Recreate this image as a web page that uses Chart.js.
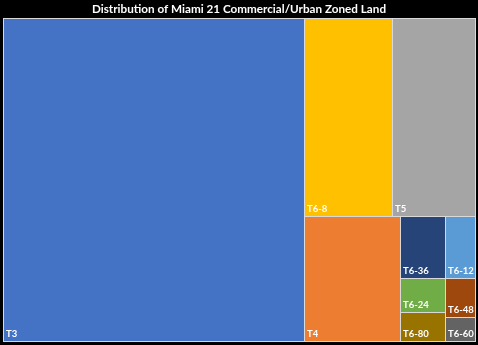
<!DOCTYPE html>
<html>
<head>
<meta charset="utf-8">
<script src="https://cdn.jsdelivr.net/npm/chart.js@4.4.1/dist/chart.umd.min.js"></script>
<style>
  html, body { margin: 0; padding: 0; background: #000; }
  #chart { display: block; }
</style>
</head>
<body>
<canvas id="chart" width="478" height="345"></canvas>
<script>
// zoned land by category (relative area)
const zones = ['T3', 'T6-8', 'T5', 'T4', 'T6-36', 'T6-12', 'T6-24', 'T6-80', 'T6-48', 'T6-60'];
const landArea = [971, 174, 164, 120, 28, 18.6, 15.3, 13.1, 11.7, 7.2];
const zoneColors = ['#4472C4', '#FFC000', '#A5A5A5', '#ED7D31', '#264478',
  '#5B9BD5', '#70AD47', '#997300', '#9E480E', '#636363'];

const GAP_COLOR = '#d9d9d9';

// squarified layout, golden ratio target (same idea as d3.treemapSquarify)
function squarify(values, x0, y0, x1, y1) {
  const ratio = (1 + Math.sqrt(5)) / 2;
  const cells = [];
  const n = values.length;
  let total = values.reduce((a, b) => a + b, 0);
  let i0 = 0;
  while (i0 < n) {
    const dx = x1 - x0, dy = y1 - y0;
    let i1 = i0;
    let sum = values[i1++];
    let minV = sum, maxV = sum;
    const alpha = Math.max(dy / dx, dx / dy) / (total * ratio);
    let beta = sum * sum * alpha;
    let minRatio = Math.max(maxV / beta, beta / minV);
    for (; i1 < n; i1++) {
      const v = values[i1];
      const s = sum + v;
      const mn = Math.min(minV, v), mx = Math.max(maxV, v);
      beta = s * s * alpha;
      const r = Math.max(mx / beta, beta / mn);
      if (r > minRatio) break;
      sum = s; minV = mn; maxV = mx; minRatio = r;
    }
    if (dx < dy) {
      const h = dy * sum / total;
      let x = x0;
      for (let i = i0; i < i1; i++) {
        const w = dx * values[i] / sum;
        cells[i] = { x0: x, y0: y0, x1: x + w, y1: y0 + h };
        x += w;
      }
      y0 += h;
    } else {
      const w = dx * sum / total;
      let y = y0;
      for (let i = i0; i < i1; i++) {
        const h = dy * values[i] / sum;
        cells[i] = { x0: x0, y0: y, x1: x0 + w, y1: y + h };
        y += h;
      }
      x0 += w;
    }
    total -= sum;
    i0 = i1;
  }
  return cells;
}

class TreemapController extends Chart.DatasetController {
  update(mode) {
    const meta = this._cachedMeta;
    this.updateElements(meta.data, 0, meta.data.length, mode);
  }

  updateElements(rects, start, count, mode) {
    const { xScale, yScale } = this._cachedMeta;
    const W = xScale.width, H = yScale.height;
    const cells = squarify(this.getDataset().data, 0, 0, W, H);
    this._cells = [];
    for (let i = start; i < start + count; i++) {
      const c = cells[i];
      const left = Math.round(xScale.getPixelForValue(c.x0 / W)) + 1;
      const right = Math.round(xScale.getPixelForValue(c.x1 / W));
      const top = Math.round(yScale.getPixelForValue(c.y0 / H)) + 1;
      const bottom = Math.round(yScale.getPixelForValue(c.y1 / H));
      this._cells[i] = { left, right, top, bottom };
      const props = {
        x: (left + right) / 2,
        y: top,
        base: bottom,
        width: right - left,
        height: bottom - top,
        horizontal: false,
        borderSkipped: {},
        inflateAmount: 0,
        options: this.resolveDataElementOptions(i, mode)
      };
      this.updateElement(rects[i], i, props, mode);
    }
  }

  draw() {
    const ctx = this._ctx;
    const area = this.chart.chartArea;
    ctx.save();
    ctx.fillStyle = GAP_COLOR;
    ctx.fillRect(Math.round(area.left), Math.round(area.top),
      Math.round(area.right) - Math.round(area.left) + 1,
      Math.round(area.bottom) - Math.round(area.top) + 1);
    ctx.restore();

    super.draw();

    const labels = this.getDataset().labels;
    ctx.save();
    ctx.fillStyle = '#fff';
    ctx.font = 'bold 9.5px Lato';
    ctx.textBaseline = 'alphabetic';
    ctx.textAlign = 'left';
    this._cells.forEach((c, i) => {
      ctx.fillText(labels[i], c.left + 2, c.bottom - 4);
    });
    ctx.restore();
  }
}
TreemapController.id = 'treemap';
TreemapController.defaults = { dataElementType: 'bar', datasetElementType: false };
TreemapController.overrides = {
  scales: {
    x: { type: 'linear', display: false },
    y: { type: 'linear', display: false }
  }
};
Chart.register(TreemapController);

new Chart(document.getElementById('chart'), {
  type: 'treemap',
  data: {
    datasets: [{
      labels: zones,
      data: landArea,
      backgroundColor: zoneColors,
      borderWidth: 0,
      borderRadius: 0
    }]
  },
  options: {
    responsive: false,
    animation: false,
    layout: { padding: { left: 3, right: 3, top: 0, bottom: 4 } },
    scales: {
      x: { type: 'linear', min: 0, max: 1, display: false },
      y: { type: 'linear', min: 0, max: 1, reverse: true, display: false }
    },
    plugins: {
      legend: { display: false },
      tooltip: { enabled: false },
      title: {
        display: true,
        text: 'Distribution of Miami 21 Commercial/Urban Zoned Land',
        color: '#fff',
        font: { family: 'Lato', size: 11.7, weight: 'bold', lineHeight: 1.2 },
        padding: { top: 2.5, bottom: 1.5 }
      }
    }
  }
});
</script>
</body>
</html>
